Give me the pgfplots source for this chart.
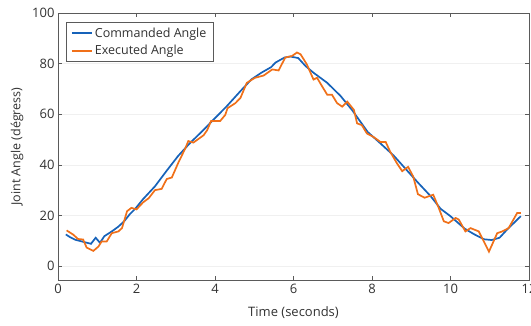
\documentclass[border=0pt]{standalone}
\usepackage{pgfplots}
\pgfplotsset{compat=1.18}
\usepackage{fontspec}
\setmainfont{Open Sans}
\definecolor{cblue}{RGB}{22,98,185}
\definecolor{corange}{RGB}{240,112,25}
\definecolor{axgray}{RGB}{90,90,90}
\definecolor{txt}{RGB}{50,50,50}
\begin{document}
\begin{tikzpicture}[font=\fontsize{12.5}{15}\selectfont]
\begin{axis}[
  at={(0,0)}, anchor=south west,
  scale only axis, width=471pt, height=267pt,
  xmin=0, xmax=12, ymin=-5.5, ymax=100,
  xtick={0,2,4,6,8,10,12}, ytick={0,20,40,60,80,100},
  tick align=inside, major tick length=4pt,
  tick style={axgray, line width=0.6pt},
  axis line style={axgray, line width=0.8pt},
  ymajorgrids, grid style={gray!12, line width=0.6pt},
  ticklabel style={txt, font=\fontsize{13}{15}\selectfont},
  /pgf/number format/assume math mode=true,
  xlabel={Time (seconds)}, ylabel={Joint Angle (dégress)},
  x label style={at={(axis description cs:0.5,-0.123)}, anchor=center, txt, font=\fontsize{13}{15}\selectfont},
  y label style={at={(axis description cs:-0.087,0.5)}, anchor=center, rotate=0, txt, font=\fontsize{12.5}{15}\selectfont},
  xticklabel style={yshift=-1pt},
  legend cell align=left,
  legend style={at={(rel axis cs:0.0163,0.967)}, anchor=north west, draw=axgray, line width=0.8pt, inner xsep=5pt, inner ysep=3.5pt, row sep=2.5pt, font=\fontsize{12.5}{15}\selectfont, text=txt},
  legend image code/.code={\draw[#1, line width=1.8pt] (0pt,0pt) -- (20pt,0pt);},
]
\addplot[cblue, line width=1.7pt] coordinates {
(0.20,12.5) (0.30,11.5) (0.44,10.4) (0.59,9.8) (0.74,9.2) (0.84,8.8) (0.96,11.2)
(1.07,9.2) (1.18,11.8) (1.38,13.8) (1.53,15.5) (1.68,17.6) (1.83,20.5) (1.97,22.7)
(2.17,26.5) (2.47,31.5) (2.76,37.5) (3.06,43.5) (3.35,48.4) (3.70,53.7) (3.95,57.7)
(4.29,63.0) (4.64,69.0) (4.93,73.8) (5.18,76.4) (5.43,78.6) (5.54,80.4) (5.77,82.4)
(5.92,82.8) (6.12,82.2) (6.31,79.0) (6.51,76.4) (6.86,72.4) (7.20,67.2) (7.50,61.5)
(7.89,53.0) (8.22,48.4) (8.55,43.7) (8.88,38.0) (9.17,33.0) (9.49,27.7) (9.75,22.6)
(10.00,19.7) (10.36,14.8) (10.60,12.6) (10.85,10.6) (11.05,10.3) (11.25,11.2)
(11.44,14.4) (11.79,19.7)
};
\addlegendentry{Commanded Angle}
\addplot[corange, line width=1.7pt] coordinates {
(0.22,14.1) (0.39,12.4) (0.51,10.7) (0.64,10.5) (0.73,7.3) (0.90,6.0) (1.03,7.7)
(1.11,9.7) (1.24,9.7) (1.37,13.0) (1.54,13.7) (1.63,15.0) (1.76,21.7) (1.87,23.0)
(2.00,22.4) (2.17,25.2) (2.31,26.8) (2.47,30.0) (2.64,30.5) (2.77,34.4) (2.90,35.0)
(3.07,41.0) (3.24,46.4) (3.32,49.4) (3.45,48.8) (3.71,51.7) (3.80,53.7) (3.90,57.3)
(4.13,57.3) (4.26,59.7) (4.32,62.4) (4.52,64.4) (4.65,66.5) (4.81,72.4) (5.02,74.4)
(5.24,75.3) (5.46,77.7) (5.62,77.3) (5.79,82.4) (5.96,83.0) (6.09,84.4) (6.18,83.7)
(6.34,79.7) (6.51,73.7) (6.60,74.4) (6.73,71.0) (6.86,67.7) (6.98,67.7) (7.11,64.4)
(7.24,63.0) (7.37,65.0) (7.54,61.7) (7.62,56.4) (7.74,55.7) (7.87,52.4) (8.04,51.0)
(8.22,49.0) (8.35,49.0) (8.47,45.0) (8.64,40.5) (8.77,37.5) (8.92,39.2) (9.05,35.4)
(9.17,28.4) (9.34,27.0) (9.56,28.2) (9.70,23.0) (9.83,17.7) (9.95,17.0) (10.13,19.0)
(10.21,18.4) (10.38,13.7) (10.51,15.0) (10.72,13.7) (10.98,5.7) (11.19,13.0)
(11.32,13.7) (11.48,15.0) (11.70,21.0) (11.79,21.0)
};
\addlegendentry{Executed Angle}
\end{axis}
\pgfresetboundingbox
\path[use as bounding box] (-58pt,-45pt) rectangle (473pt,280pt);
\end{tikzpicture}
\end{document}
